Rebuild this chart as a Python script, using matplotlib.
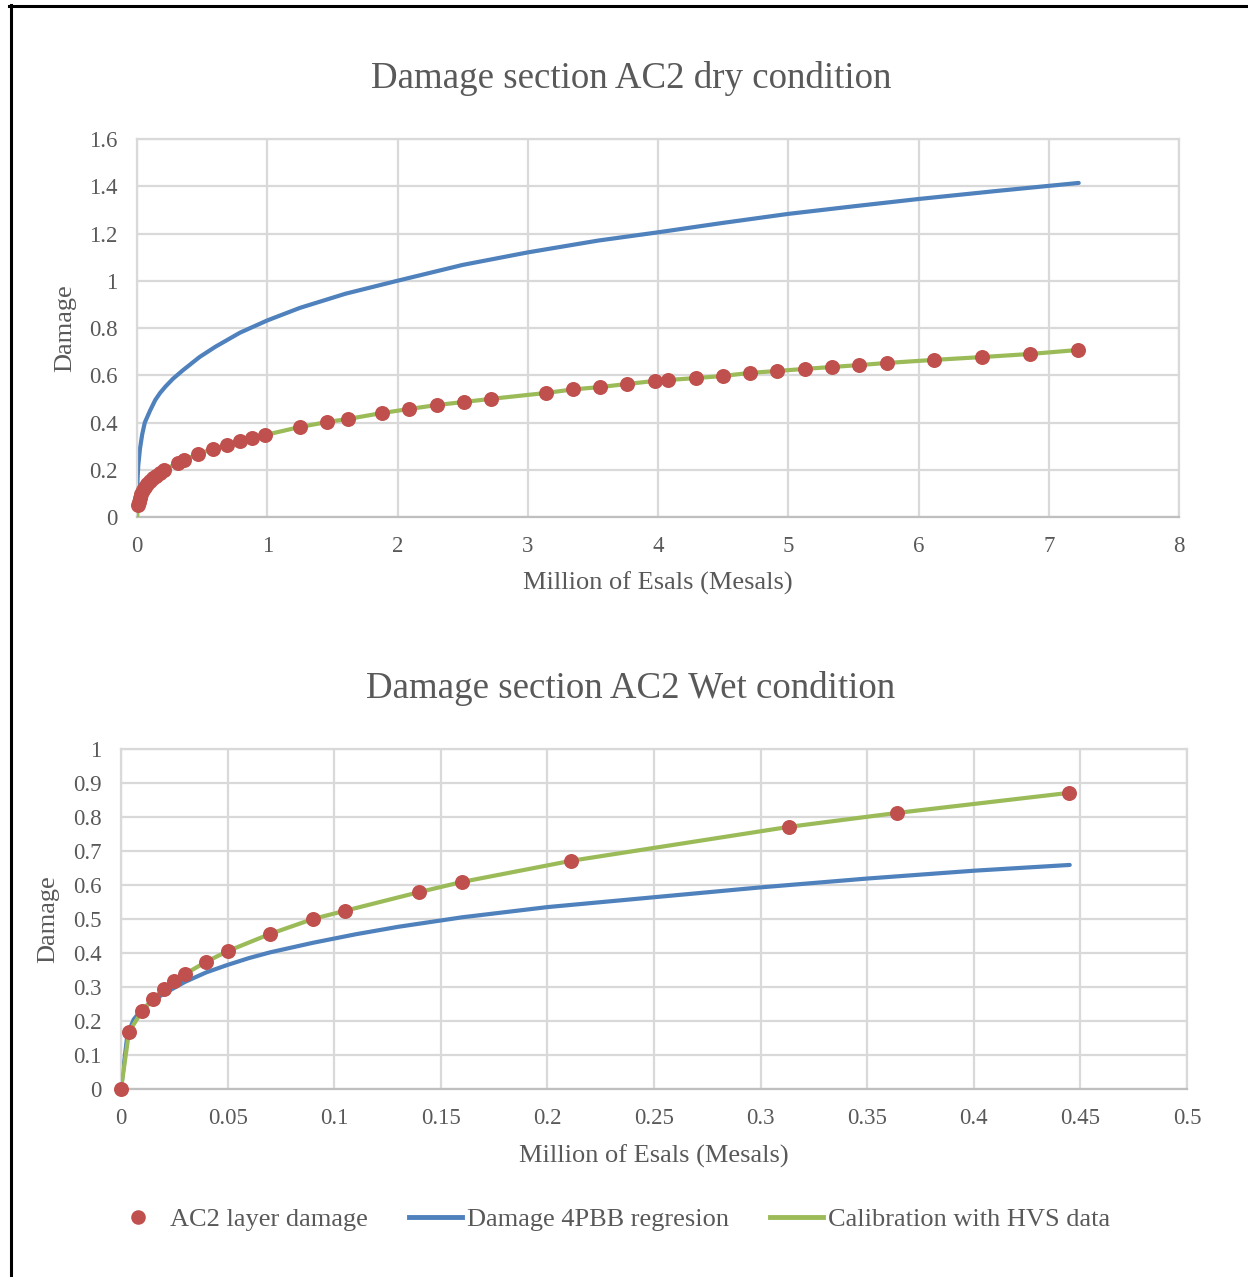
import matplotlib
matplotlib.use("Agg")
import matplotlib.pyplot as plt
from matplotlib.lines import Line2D

plt.rcParams['font.family'] = ['Liberation Serif', 'DejaVu Serif']

RED = '#C0504D'
BLUE = '#4F81BD'
GREEN = '#9BBB59'
TXT = '#595959'
GRID = '#D9D9D9'

# --- dry condition (top chart) ---
dry_pts_x = [0.008, 0.015, 0.023, 0.031, 0.046, 0.061, 0.077, 0.10, 0.123, 0.146, 0.177,
             0.207, 0.315, 0.361, 0.468, 0.584, 0.691, 0.791, 0.883, 0.983, 1.251, 1.459,
             1.620, 1.881, 2.088, 2.303, 2.511, 2.718, 3.140, 3.347, 3.555, 3.762, 3.977,
             4.077, 4.292, 4.499, 4.706, 4.914, 5.129, 5.336, 5.543, 5.758, 6.119, 6.488,
             6.856, 7.225]
dry_pts_y = [0.051, 0.063, 0.080, 0.097, 0.114, 0.127, 0.140, 0.152, 0.165, 0.173, 0.186,
             0.199, 0.229, 0.241, 0.267, 0.288, 0.305, 0.322, 0.334, 0.347, 0.381, 0.402,
             0.415, 0.440, 0.457, 0.474, 0.487, 0.500, 0.525, 0.540, 0.550, 0.563, 0.576,
             0.580, 0.588, 0.597, 0.610, 0.618, 0.627, 0.635, 0.643, 0.652, 0.665, 0.677,
             0.690, 0.707]
dry_cal_x = [0.0] + dry_pts_x
dry_cal_y = [0.0] + dry_pts_y
dry_reg_x = [0.0, 0.002, 0.005, 0.01, 0.023, 0.04, 0.06, 0.10, 0.14, 0.177, 0.22, 0.276,
             0.35, 0.48, 0.6, 0.79, 1.0, 1.25, 1.6, 2.0, 2.5, 3.0, 3.54, 4.0, 4.5, 5.0,
             5.5, 6.0, 6.6, 7.23]
dry_reg_y = [0.0, 0.12, 0.17, 0.22, 0.29, 0.35, 0.40, 0.45, 0.495, 0.525, 0.553, 0.585,
             0.62, 0.677, 0.72, 0.78, 0.832, 0.885, 0.945, 1.0, 1.067, 1.12, 1.17, 1.205,
             1.245, 1.283, 1.315, 1.346, 1.38, 1.414]

# --- wet condition (bottom chart) ---
wet_pts_x = [0.0, 0.00375, 0.00985, 0.015, 0.0202, 0.0249, 0.030, 0.0399, 0.0502, 0.0699,
             0.090, 0.105, 0.1398, 0.160, 0.211, 0.3133, 0.364, 0.4447]
wet_pts_y = [0.0, 0.168, 0.229, 0.265, 0.294, 0.318, 0.338, 0.374, 0.406, 0.456,
             0.500, 0.524, 0.579, 0.609, 0.671, 0.771, 0.812, 0.871]
wet_cal_x = wet_pts_x
wet_cal_y = wet_pts_y
wet_reg_x = [0.0, 0.003, 0.006, 0.01, 0.015, 0.02, 0.03, 0.04, 0.05, 0.06, 0.07, 0.09,
             0.11, 0.13, 0.16, 0.2, 0.25, 0.3, 0.35, 0.4, 0.445]
wet_reg_y = [0.0, 0.16, 0.205, 0.235, 0.26, 0.28, 0.315, 0.343, 0.365, 0.385, 0.402, 0.43,
             0.455, 0.477, 0.505, 0.535, 0.564, 0.593, 0.619, 0.642, 0.659]

W, H = 1248, 1277
fig = plt.figure(figsize=(W / 100, H / 100), dpi=100)


def axes_px(l, t, r, b):
    return fig.add_axes([l / W, 1 - b / H, (r - l) / W, (b - t) / H])


def style(ax, xticks, xlabels, yticks, ylabels):
    ax.set_xticks(xticks)
    ax.set_xticklabels(xlabels)
    ax.set_yticks(yticks)
    ax.set_yticklabels(ylabels)
    ax.grid(True, color=GRID, lw=1.6, zorder=0)
    ax.set_axisbelow(True)
    for s in ax.spines.values():
        s.set_color(GRID)
        s.set_linewidth(1.6)
    ax.spines['bottom'].set_color('#BFBFBF')
    ax.tick_params(length=0, labelsize=16.5, labelcolor=TXT, pad=14)


# top chart
ax1 = axes_px(137, 139, 1179, 517)
ax1.plot(dry_reg_x, dry_reg_y, color=BLUE, lw=3, zorder=2, solid_capstyle='round')
ax1.plot(dry_cal_x, dry_cal_y, color=GREEN, lw=3, zorder=3, solid_capstyle='round')
ax1.plot(dry_pts_x, dry_pts_y, 'o', color=RED, ms=10.8, mec='none', zorder=4, clip_on=False)
ax1.set_xlim(0, 8)
ax1.set_ylim(0, 1.6)
style(ax1, range(9), [str(i) for i in range(9)],
      [i * 0.2 for i in range(9)], ['0', '0.2', '0.4', '0.6', '0.8', '1', '1.2', '1.4', '1.6'])
ax1.set_xlabel('Million of Esals (Mesals)', fontsize=19, color=TXT, va='center')
ax1.xaxis.set_label_coords(0.5, -66 / 378)
ax1.set_ylabel('Damage', fontsize=19, color=TXT, va='center')
ax1.yaxis.set_label_coords(-72 / 1042, 0.5)
fig.text(631 / W, 1 - 79 / H, 'Damage section AC2 dry condition', fontsize=26.6,
         color=TXT, ha='center', va='center')

# bottom chart
ax2 = axes_px(121, 749, 1187, 1089)
ax2.plot(wet_reg_x, wet_reg_y, color=BLUE, lw=3, zorder=2, solid_capstyle='round')
ax2.plot(wet_cal_x, wet_cal_y, color=GREEN, lw=3, zorder=3, solid_capstyle='round')
ax2.plot(wet_pts_x, wet_pts_y, 'o', color=RED, ms=10.8, mec='none', zorder=4, clip_on=False)
ax2.set_xlim(0, 0.5)
ax2.set_ylim(0, 1)
style(ax2, [i * 0.05 for i in range(11)],
      ['0', '0.05', '0.1', '0.15', '0.2', '0.25', '0.3', '0.35', '0.4', '0.45', '0.5'],
      [i * 0.1 for i in range(11)],
      ['0', '0.1', '0.2', '0.3', '0.4', '0.5', '0.6', '0.7', '0.8', '0.9', '1'])
ax2.set_xlabel('Million of Esals (Mesals)', fontsize=19, color=TXT, va='center')
ax2.xaxis.set_label_coords(0.5, -67 / 340)
ax2.set_ylabel('Damage', fontsize=19, color=TXT, va='center')
ax2.yaxis.set_label_coords(-73 / 1066, 0.5)
fig.text(631 / W, 1 - 688 / H, 'Damage section AC2 Wet condition', fontsize=26.6,
         color=TXT, ha='center', va='center')

# legend
handles = [
    Line2D([], [], ls='none', marker='o', color=RED, ms=10.5, mec='none'),
    Line2D([], [], color=BLUE, lw=3.5),
    Line2D([], [], color=GREEN, lw=3.5),
]
labels = ['AC2 layer damage', 'Damage 4PBB regresion', 'Calibration with HVS data']
leg = fig.legend(handles, labels, loc='center', bbox_to_anchor=(611 / W, 1 - 1219 / H),
                 ncol=3, frameon=False, fontsize=19, handlelength=2.0,
                 handletextpad=0.2, columnspacing=1.55, borderpad=0)
for t in leg.get_texts():
    t.set_color(TXT)

# outer frame of the page
fig.add_artist(Line2D([10.5 / W, 10.5 / W], [0, 1 - 5 / H], color='black', lw=2.2,
                      transform=fig.transFigure))
fig.add_artist(Line2D([9 / W, 1], [1 - 5.5 / H, 1 - 5.5 / H], color='black', lw=2.2,
                      transform=fig.transFigure))

fig.savefig('out.png', dpi=100)
